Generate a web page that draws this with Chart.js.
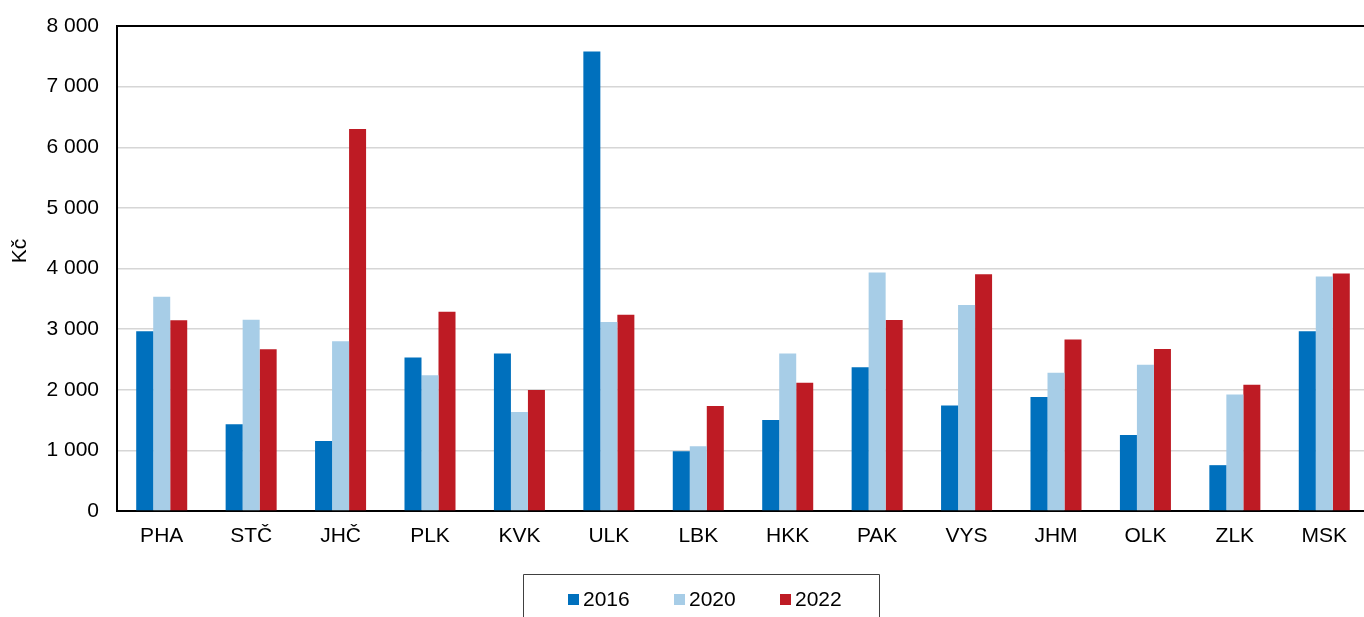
<!DOCTYPE html>
<html>
<head>
<meta charset="utf-8">
<script src="https://cdn.jsdelivr.net/npm/chart.js@4.4.0/dist/chart.umd.min.js"></script>
<style>
html,body{margin:0;padding:0;background:#fff;overflow:hidden;}
#wrap{width:1372px;height:617px;}
</style>
</head>
<body>
<div id="wrap"><canvas id="c" width="1372" height="617"></canvas></div>
<script>
const categories = ['PHA','STČ','JHČ','PLK','KVK','ULK','LBK','HKK','PAK','VYS','JHM','OLK','ZLK','MSK'];
const seriesNames = ['2016','2020','2022'];
const values2016 = [2965,1430,1156,2532,2597,7578,986,1501,2373,1742,1879,1255,756,2964];
const values2020 = [3535,3156,2800,2241,1633,3118,1068,2597,3934,3397,2279,2411,1923,3868];
const values2022 = [3145,2668,6301,3288,1995,3238,1732,2115,3151,3907,2827,2674,2082,3918];
const yTickLabels = ['0','1 000','2 000','3 000','4 000','5 000','6 000','7 000','8 000'];
const yAxisTitle = 'Kč';
const colors = ['#0070BD','#A7CDE7','#BE1B24'];

const FONT = 'Liberation Sans, Arial, Helvetica, sans-serif';
const FS = 21;

const extras = {
  id: 'extras',
  afterDraw(chart) {
    const ctx = chart.ctx;
    const a = chart.chartArea;
    ctx.save();
    ctx.strokeStyle = '#000';
    ctx.lineWidth = 2;
    ctx.beginPath();
    ctx.moveTo(a.left - 1, a.top);
    ctx.lineTo(a.right + 2, a.top);
    ctx.stroke();
    ctx.fillStyle = '#000';
    ctx.font = FS + 'px ' + FONT;
    ctx.textAlign = 'center';
    ctx.textBaseline = 'middle';
    ctx.translate(20, 251);
    ctx.rotate(-Math.PI / 2);
    ctx.fillText(yAxisTitle, 0, 0);
    ctx.restore();
    ctx.save();
    ctx.strokeStyle = '#404040';
    ctx.lineWidth = 1;
    ctx.beginPath();
    ctx.moveTo(523.5, 640);
    ctx.lineTo(523.5, 574.5);
    ctx.lineTo(879.5, 574.5);
    ctx.lineTo(879.5, 640);
    ctx.stroke();
    ctx.font = FS + 'px ' + FONT;
    ctx.textAlign = 'left';
    ctx.textBaseline = 'middle';
    chart.data.datasets.forEach((ds, i) => {
      const x = 568 + i * 106;
      ctx.fillStyle = ds.backgroundColor;
      ctx.fillRect(x, 594, 11, 11);
      ctx.fillStyle = '#000';
      ctx.fillText(ds.label, x + 15, 600);
    });
    ctx.restore();
  }
};

new Chart(document.getElementById('c'), {
  type: 'bar',
  data: {
    labels: categories,
    datasets: [
      { label: seriesNames[0], data: values2016, backgroundColor: colors[0] },
      { label: seriesNames[1], data: values2020, backgroundColor: colors[1] },
      { label: seriesNames[2], data: values2022, backgroundColor: colors[2] }
    ]
  },
  options: {
    responsive: false,
    animation: false,
    devicePixelRatio: 1,
    layout: { padding: { left: 0, right: 3, top: 26, bottom: 66 } },
    datasets: { bar: { barPercentage: 1, categoryPercentage: 0.5705, borderWidth: 0 } },
    plugins: { legend: { display: false }, tooltip: { enabled: false } },
    scales: {
      x: {
        grid: { display: false, drawTicks: false },
        border: { display: true, color: '#000', width: 2 },
        ticks: { color: '#000', font: { family: FONT, size: FS }, padding: 13, maxRotation: 0, autoSkip: false },
        afterFit(scale) { scale.height = 40; scale.paddingLeft = 0; scale.paddingRight = 0; }
      },
      y: {
        min: 0, max: 8000,
        grid: { color: '#d6d6d6', lineWidth: 1.5, drawTicks: false },
        border: { display: true, color: '#000', width: 2 },
        ticks: {
          stepSize: 1000, color: '#000', font: { family: FONT, size: FS }, padding: 18,
          callback: (v, i) => yTickLabels[i]
        },
        afterFit(scale) { scale.width = 117; scale.paddingTop = 0; scale.paddingBottom = 0; }
      }
    }
  },
  plugins: [extras]
});
</script>
</body>
</html>
